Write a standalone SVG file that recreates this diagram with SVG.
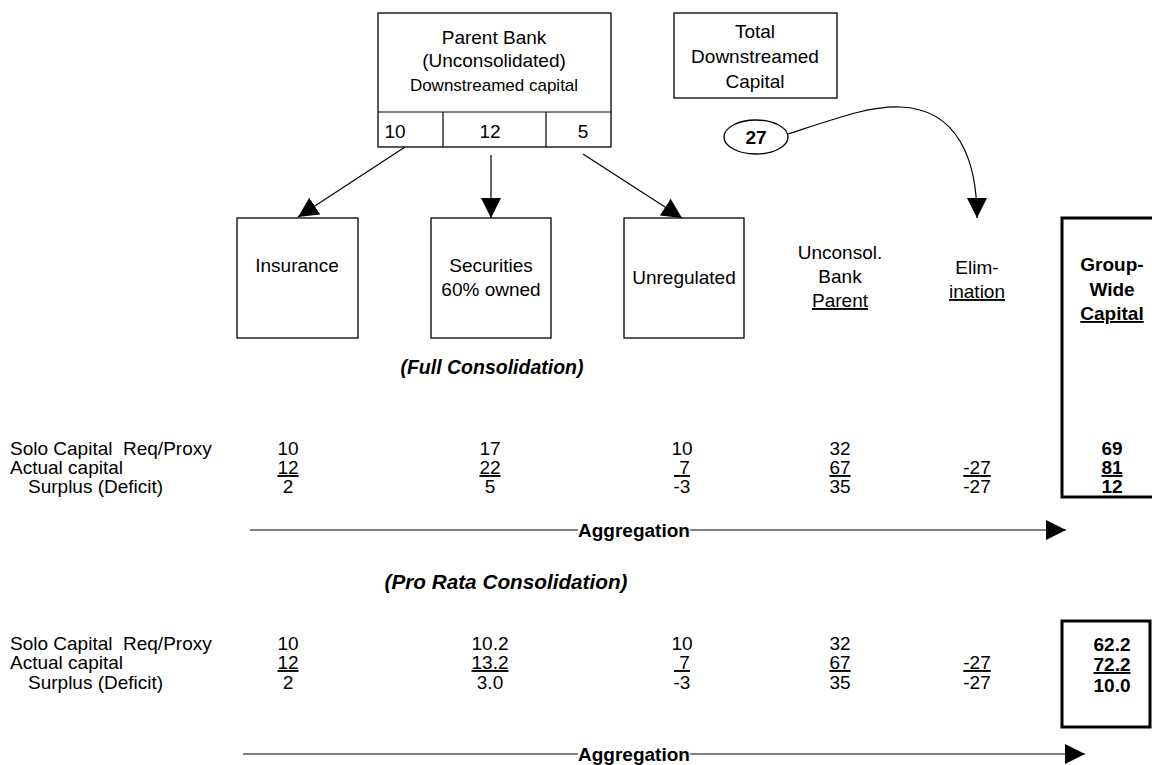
<svg xmlns="http://www.w3.org/2000/svg" width="1152" height="765" viewBox="0 0 1152 765">
<style>
text{font-family:"Liberation Sans",Arial,sans-serif;font-size:19px;fill:#000;text-anchor:middle}
.box{fill:#fff;stroke:#000;stroke-width:1.3}
.thick{fill:none;stroke:#000;stroke-width:3}
.ln{fill:none;stroke:#000;stroke-width:1.2}
.b{font-weight:bold}
.bi{font-weight:bold;font-style:italic}
.u{text-decoration:underline}
.lab{text-anchor:start}
</style>
<defs>
<marker id="ah" markerUnits="userSpaceOnUse" viewBox="0 0 20 20" refX="20" refY="10" markerWidth="20" markerHeight="20" orient="auto">
<path d="M0,0 L20,10 L0,20 z" fill="#000"/>
</marker>
</defs>
<rect width="1152" height="765" fill="#fff"/>

<g id="parent-bank">
<rect class="box" x="378" y="13" width="233" height="134"/>
<line class="ln" x1="378" y1="112" x2="611" y2="112"/>
<line class="ln" x1="443" y1="112" x2="443" y2="147"/>
<line class="ln" x1="546" y1="112" x2="546" y2="147"/>
<text x="494" y="44">Parent Bank</text>
<text x="494" y="67">(Unconsolidated)</text>
<text x="494" y="91" style="font-size:17px">Downstreamed capital</text>
<text x="395" y="138">10</text>
<text x="490" y="138">12</text>
<text x="583" y="138">5</text>
</g>

<g id="total-downstreamed">
<rect class="box" x="674" y="13" width="163" height="85"/>
<text x="755" y="38">Total</text>
<text x="755" y="63">Downstreamed</text>
<text x="755" y="88">Capital</text>
</g>

<g id="value-27">
<ellipse class="box" cx="756" cy="137" rx="32" ry="17"/>
<text class="b" x="756" y="144">27</text>
</g>

<g id="insurance">
<rect class="box" x="237" y="218" width="121" height="120"/>
<text x="297" y="272">Insurance</text>
</g>
<g id="securities">
<rect class="box" x="431" y="218" width="120" height="120"/>
<text x="491" y="272">Securities</text>
<text x="491" y="296">60% owned</text>
</g>
<g id="unregulated">
<rect class="box" x="624" y="218" width="120" height="120"/>
<text x="684" y="284">Unregulated</text>
</g>

<g id="unconsol-header">
<text x="840" y="259">Unconsol.</text>
<text x="840" y="283">Bank</text>
<text class="u" x="840" y="307">Parent</text>
</g>
<g id="elim-header">
<text x="977" y="274">Elim-</text>
<text class="u" x="977" y="298">ination</text>
</g>
<g id="group-wide-full">
<rect class="thick" x="1062" y="218" width="100" height="279"/>
<text class="b" x="1112" y="271">Group-</text>
<text class="b" x="1112" y="296">Wide</text>
<text class="b u" x="1112" y="320">Capital</text>
<text class="b" x="1112" y="455">69</text>
<text class="b u" x="1112" y="474">81</text>
<text class="b" x="1112" y="493">12</text>
</g>

<g id="full-table">
<text class="bi" x="492" y="374" style="font-size:19.5px">(Full Consolidation)</text>
<text class="lab" x="10" y="455" xml:space="preserve">Solo Capital  Req/Proxy</text>
<text class="lab" x="10" y="474">Actual capital</text>
<text class="lab" x="28" y="493">Surplus (Deficit)</text>
<text x="288" y="455">10</text>
<text x="490" y="455">17</text>
<text x="682" y="455">10</text>
<text x="840" y="455">32</text>
<text class="u" x="288" y="474">12</text>
<text class="u" x="490" y="474">22</text>
<text class="u" x="682" y="474" xml:space="preserve"> 7</text>
<text class="u" x="840" y="474">67</text>
<text class="u" x="977" y="474">-27</text>
<text x="288" y="493">2</text>
<text x="490" y="493">5</text>
<text x="682" y="493">-3</text>
<text x="840" y="493">35</text>
<text x="977" y="493">-27</text>
</g>

<g id="aggregation-1">
<text class="b" x="634" y="537">Aggregation</text>
</g>

<g id="pro-rata-table">
<text class="bi" x="506" y="589" style="font-size:21px" textLength="243" lengthAdjust="spacingAndGlyphs">(Pro Rata Consolidation)</text>
<text class="lab" x="10" y="650" xml:space="preserve">Solo Capital  Req/Proxy</text>
<text class="lab" x="10" y="669">Actual capital</text>
<text class="lab" x="28" y="689">Surplus (Deficit)</text>
<text x="288" y="650">10</text>
<text x="490" y="650">10.2</text>
<text x="682" y="650">10</text>
<text x="840" y="650">32</text>
<text class="u" x="288" y="669">12</text>
<text class="u" x="490" y="669">13.2</text>
<text class="u" x="682" y="669" xml:space="preserve"> 7</text>
<text class="u" x="840" y="669">67</text>
<text class="u" x="977" y="669">-27</text>
<text x="288" y="689">2</text>
<text x="490" y="689">3.0</text>
<text x="682" y="689">-3</text>
<text x="840" y="689">35</text>
<text x="977" y="689">-27</text>
</g>
<g id="group-wide-prorata">
<rect class="thick" x="1062" y="621" width="88" height="106"/>
<text class="b" x="1112" y="651">62.2</text>
<text class="b u" x="1112" y="671">72.2</text>
<text class="b" x="1112" y="692">10.0</text>
</g>

<g id="aggregation-2">
<text class="b" x="634" y="761">Aggregation</text>
</g>

<g id="connectors">
<line class="ln" x1="405" y1="147" x2="298" y2="217" marker-end="url(#ah)"/>
<line class="ln" x1="491" y1="155" x2="491" y2="218" marker-end="url(#ah)"/>
<line class="ln" x1="583" y1="154" x2="682" y2="218" marker-end="url(#ah)"/>
<path class="ln" d="M788,134 C840,117 870,106 900,107 C958,109 977,160 977,218" marker-end="url(#ah)"/>
<line class="ln" x1="250" y1="530" x2="578" y2="530"/>
<line class="ln" x1="690" y1="530" x2="1066" y2="530" marker-end="url(#ah)"/>
<line class="ln" x1="243" y1="754" x2="578" y2="754"/>
<line class="ln" x1="690" y1="754" x2="1085" y2="754" marker-end="url(#ah)"/>
</g>
</svg>
